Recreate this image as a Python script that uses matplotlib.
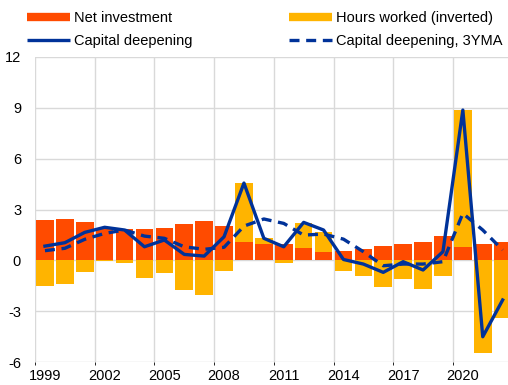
import matplotlib.pyplot as plt
from matplotlib.lines import Line2D
import numpy as np

plt.rcParams['font.family'] = ['Liberation Sans', 'DejaVu Sans']
plt.rcParams['axes.unicode_minus'] = False

years = list(range(1999, 2023))
net_investment = [2.36, 2.44, 2.28, 1.93, 1.87, 1.87, 1.93, 2.14, 2.32, 2.04,
                  1.06, 0.96, 0.98, 0.73, 0.51, 0.57, 0.67, 0.84, 0.98, 1.08,
                  1.41, 0.80, 0.94, 1.08]
hours_inverted = [-1.52, -1.42, -0.69, -0.06, -0.18, -1.06, -0.77, -1.75, -2.05, -0.63,
                  3.50, 0.36, -0.18, 1.47, 1.18, -0.63, -0.95, -1.60, -1.12, -1.67,
                  -0.91, 8.05, -5.49, -3.42]
capital_deepening = [0.84, 1.04, 1.65, 1.95, 1.79, 0.80, 1.20, 0.35, 0.25, 1.39,
                     4.56, 1.30, 0.80, 2.24, 1.79, 0.05, -0.22, -0.71, -0.08, -0.57,
                     0.51, 8.87, -4.51, -2.34]
capital_deepening_3yma = [0.57, 0.71, 1.24, 1.59, 1.79, 1.43, 1.30, 0.80, 0.65, 0.77,
                          2.02, 2.44, 2.18, 1.49, 1.55, 1.25, 0.51, -0.32, -0.22, -0.22,
                          -0.08, 2.77, 1.79, 0.61]
tick_years = ['1999', '2002', '2005', '2008', '2011', '2014', '2017', '2020']

c_net = '#FF4B00'
c_hours = '#FFB400'
c_line = '#003299'

fig = plt.figure(figsize=(5.08, 3.85), dpi=100)
ax = fig.add_axes([35 / 508, 23 / 385, 473 / 508, 305 / 385])

x = np.arange(len(years)) + 0.5
net = np.array(net_investment)
hrs = np.array(hours_inverted)
hrs_bottom = np.where(hrs > 0, net, 0)

ax.bar(x, net, width=0.88, color=c_net, zorder=2)
ax.bar(x, hrs, bottom=hrs_bottom, width=0.88, color=c_hours, zorder=2)
ax.plot(x, capital_deepening, color=c_line, lw=2.4, zorder=3)
ax.plot(x, capital_deepening_3yma, color=c_line, lw=2.4, ls=(0, (3, 2)), zorder=3)

ax.set_ylim(-6, 12)
ax.set_yticks(range(-6, 13, 3))
ax.set_xlim(0, 473 / 19.9)
ax.set_xticks(np.arange(0, 24, 3) + 0.5)
ax.set_xticklabels(tick_years)
ax.set_xticks(np.arange(0, 24, 3), minor=True)
ax.tick_params(axis='both', length=0, labelsize=10.5, colors='black')
ax.tick_params(axis='x', pad=5, which='both')
ax.tick_params(axis='y', pad=10)
ax.grid(axis='y', color='#d9d9d9', lw=1, zorder=0)
ax.grid(axis='x', which='minor', color='#d9d9d9', lw=1, zorder=0)
ax.grid(axis='x', which='major', visible=False)
for s in ax.spines.values():
    s.set_visible(False)

handles = [
    Line2D([0], [0], color=c_net, lw=6, solid_capstyle='butt'),
    Line2D([0], [0], color=c_line, lw=2.4, solid_capstyle='butt'),
    Line2D([0], [0], color=c_hours, lw=6, solid_capstyle='butt'),
    Line2D([0], [0], color=c_line, lw=2.4, ls=(0, (3, 2))),
]
labels = ['Net investment', 'Capital deepening',
          'Hours worked (inverted)', 'Capital deepening, 3YMA']
fig.legend(handles, labels, ncol=2, loc='upper left', bbox_to_anchor=(0.035, 0.995),
           frameon=False, fontsize=10.5, handlelength=2.95, handletextpad=0.3,
           columnspacing=6.6, labelspacing=0.65, borderaxespad=0.2)

fig.savefig('out.png', dpi=100)
